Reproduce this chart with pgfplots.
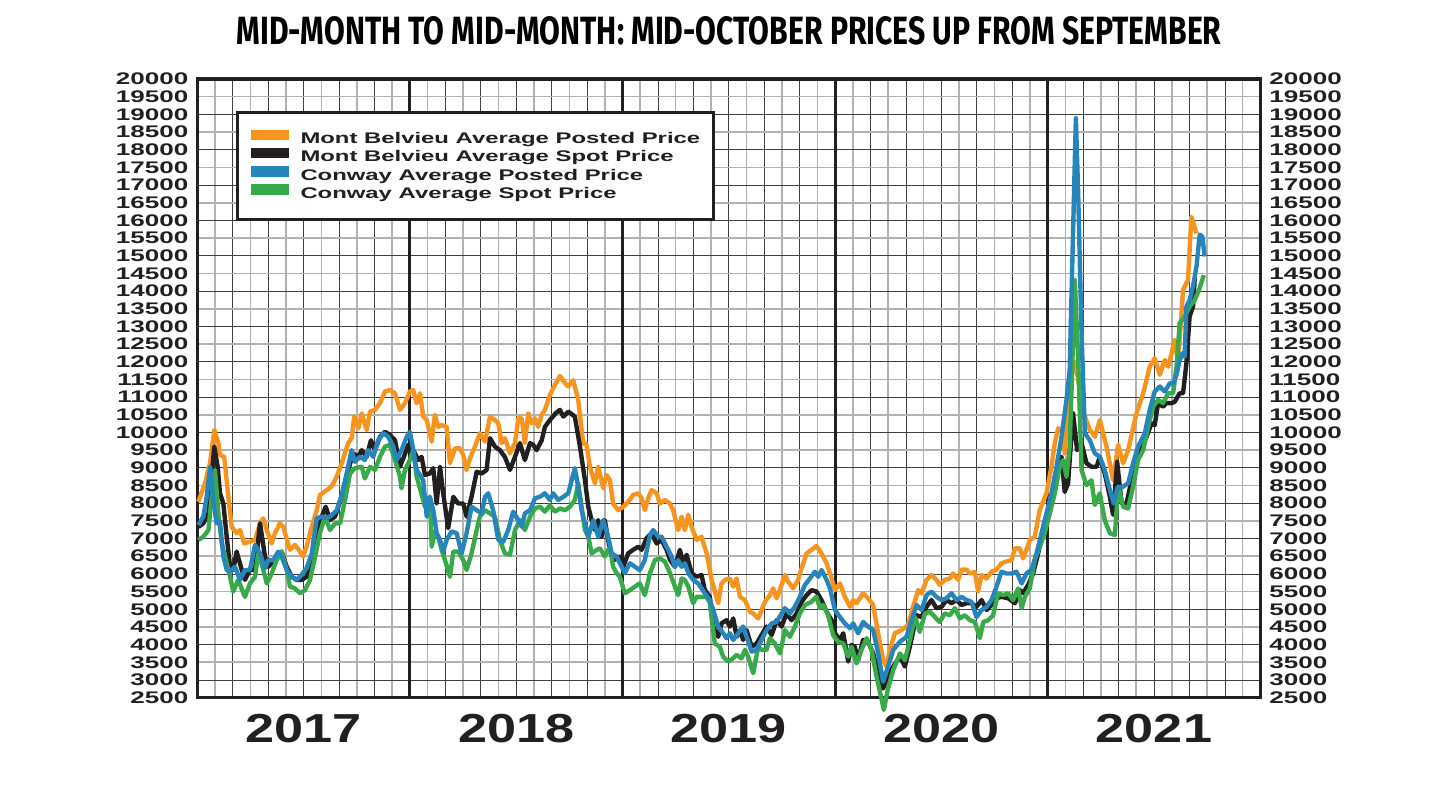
\documentclass[border=0pt]{standalone}
\usepackage{fontspec}
\usepackage{graphicx}
\usepackage{pgfplots}
\pgfplotsset{compat=1.18}
\usepackage{pgfplotstable}
\newfontfamily\tickfont[FakeStretch=1.55]{Liberation Sans}
\newfontfamily\yearfont[FakeStretch=1.29]{Liberation Sans}
\newfontfamily\titlefont{Fira Sans}
\definecolor{cOrange}{RGB}{247,148,29}
\definecolor{cBlack}{RGB}{35,31,32}
\definecolor{cBlue}{RGB}{38,134,188}
\definecolor{cGreen}{RGB}{57,170,73}

% x = months since 1 Jan 2017, y = price
\pgfplotstableread{
m v
0.06 8040
0.43 8560
0.72 9140
0.96 10070
1.19 9700
1.28 9360
1.52 9310
1.75 8180
1.94 7330
2.22 7150
2.41 7240
2.65 6860
2.97 6910
3.26 6960
3.54 7430
3.72 7570
3.92 7240
4.20 6860
4.38 7150
4.67 7430
4.85 7330
5.23 6680
5.51 6820
5.80 6630
5.98 6490
6.17 6770
6.46 7330
6.74 7800
6.92 8230
7.30 8370
7.58 8470
7.87 8750
8.15 9130
8.52 9700
8.71 9840
8.86 10450
9.09 10120
9.28 10540
9.56 10070
9.75 10590
10.03 10640
10.31 10830
10.59 11160
10.87 11200
11.16 11110
11.44 10640
11.72 10830
12.00 11160
12.19 11200
12.38 10830
12.57 11110
12.75 10450
12.95 10350
13.23 9740
13.41 10500
13.60 10160
13.79 10210
14.07 10160
14.26 9130
14.54 9550
14.83 9550
15.01 9360
15.20 8940
15.39 9270
15.67 9600
15.95 9980
16.24 9740
16.52 10450
16.80 10350
16.99 10260
17.18 9700
17.36 9840
17.65 9410
17.93 9700
18.12 10400
18.31 10400
18.49 9700
18.68 10540
18.87 10260
19.06 10400
19.24 10160
19.44 10500
19.62 10640
19.90 11060
20.19 11350
20.47 11600
20.75 11400
20.94 11300
21.22 11480
21.50 10920
21.78 9700
21.97 9650
22.16 9030
22.44 8560
22.63 9030
22.91 8420
23.10 8800
23.29 8650
23.47 7990
23.76 7800
24.04 7900
24.32 8040
24.60 8230
24.89 8280
25.08 8140
25.26 7800
25.45 8140
25.64 8370
25.93 8280
26.11 7990
26.39 8090
26.68 7990
26.86 7800
27.14 7240
27.34 7620
27.52 7240
27.71 7670
27.90 7330
28.18 6960
28.46 7050
28.75 6580
29.03 5830
29.40 5170
29.59 5730
29.78 5830
30.06 5870
30.25 5640
30.44 5870
30.63 5350
30.91 5260
31.19 4930
31.38 4880
31.66 4740
31.85 4980
32.04 5210
32.32 5400
32.51 5590
32.70 5310
32.98 5690
33.17 5970
33.35 5780
33.63 5590
33.91 5830
34.11 6160
34.39 6580
34.67 6680
34.95 6790
35.23 6580
35.52 6300
35.80 5870
35.99 5540
36.27 5730
36.55 5350
36.84 5070
37.02 5260
37.21 5170
37.58 5450
37.86 5310
38.15 5120
38.43 4320
38.71 3560
38.90 3380
39.09 3850
39.37 4320
39.75 4410
40.12 4550
40.40 5070
40.69 5540
40.88 5450
41.16 5830
41.44 5970
41.72 5830
41.91 5690
42.19 5830
42.48 5870
42.66 6010
42.95 5830
43.14 6120
43.42 6120
43.61 6010
43.89 6060
44.07 5500
44.27 5970
44.55 5870
44.83 6060
45.11 6120
45.39 6300
45.68 6350
45.96 6390
46.15 6720
46.43 6720
46.61 6440
46.80 6680
46.99 6960
47.27 7050
47.55 7800
47.93 8280
48.21 9030
48.40 9700
48.59 10120
48.87 9980
48.96 9410
49.15 10920
49.34 11580
49.53 12000
49.72 11500
49.91 10900
50.10 10450
50.38 10070
50.66 9880
50.94 10350
51.32 9600
51.69 8650
51.98 9650
52.26 9130
52.54 9500
53.01 10540
53.39 11110
53.76 11860
54.04 12100
54.33 11630
54.61 12050
54.80 11860
54.99 12240
55.17 12620
55.36 11960
55.64 14030
55.92 14310
56.11 16100
56.40 15630
}\mbposted

\pgfplotstableread{
m v
0.06 7330
0.34 7430
0.63 7710
0.96 9600
1.15 9030
1.28 8280
1.47 7990
1.66 7050
1.85 6200
2.03 6110
2.22 6630
2.51 6110
2.69 5830
2.97 6110
3.26 6110
3.54 7430
3.82 6490
4.01 6200
4.29 6350
4.57 6540
4.76 6630
5.05 6200
5.33 5920
5.61 5830
5.89 5830
6.17 5920
6.46 6300
6.74 6960
7.02 7620
7.25 7900
7.49 7520
7.77 7620
8.15 8180
8.52 8940
8.80 9410
9.09 9310
9.28 9500
9.56 9310
9.80 9780
10.03 9500
10.31 9880
10.59 10020
10.87 9930
11.16 9780
11.44 9030
11.63 9270
11.91 9650
12.19 9500
12.47 9220
12.66 9310
12.85 8800
13.13 8840
13.32 8990
13.51 7990
13.70 9030
13.88 8280
14.16 7290
14.45 8180
14.73 7990
15.01 7990
15.20 7620
15.48 8180
15.77 8890
16.05 8840
16.33 8940
16.52 9840
16.80 9600
17.08 9500
17.36 9310
17.65 8940
17.93 9310
18.21 9700
18.49 9220
18.78 9700
18.96 9650
19.15 9500
19.44 9780
19.62 10160
19.90 10350
20.24 10550
20.47 10640
20.66 10450
20.94 10590
21.31 10450
21.60 9600
21.88 8650
22.07 7900
22.26 7520
22.44 7240
22.63 7520
22.82 7050
23.00 7520
23.29 6680
23.57 6400
23.85 6490
24.04 6200
24.32 6580
24.60 6680
24.89 6770
25.08 6680
25.36 7010
25.64 7150
25.93 6860
26.21 6960
26.49 6680
26.68 6400
26.96 6200
27.24 6680
27.43 6300
27.62 6540
27.90 6020
28.18 5920
28.46 5970
28.65 5540
28.93 5350
29.12 4510
29.40 4220
29.59 4600
29.87 4690
30.06 4510
30.25 4740
30.44 4220
30.63 4410
30.81 4130
31.00 4410
31.29 3940
31.57 4030
31.85 4270
32.13 4510
32.42 4270
32.70 4690
32.98 4510
33.26 4880
33.54 4690
33.83 4880
34.11 5210
34.39 5400
34.67 5540
34.95 5500
35.23 5260
35.52 4930
35.80 4690
35.99 4320
36.27 4130
36.46 4320
36.74 3520
36.93 3990
37.11 3940
37.30 3560
37.58 4130
37.86 4080
38.15 3750
38.43 3190
38.71 2760
38.99 3090
39.28 3380
39.66 3660
39.94 3380
40.22 3940
40.60 4830
40.88 4780
41.16 5070
41.44 5260
41.72 5030
42.01 5070
42.29 5260
42.57 5170
42.85 5260
43.14 5120
43.42 5170
43.70 5170
43.98 5070
44.27 5260
44.55 4980
44.83 5120
45.11 5310
45.39 5350
45.77 5310
46.15 5170
46.43 5540
46.61 5450
46.90 5690
47.18 6010
47.46 6580
47.74 7150
48.03 7710
48.31 8280
48.59 9220
48.78 9310
48.96 8320
49.15 8560
49.43 10540
49.66 9500
49.91 9700
50.19 9130
50.47 9030
50.76 9030
50.94 9310
51.22 8840
51.51 8180
51.69 7670
51.92 9170
52.17 7990
52.45 7990
52.73 8650
53.01 9220
53.30 9600
53.58 9880
53.86 10260
54.04 10210
54.23 10830
54.51 10730
54.70 10830
54.99 10830
55.17 10870
55.45 11110
55.64 11110
55.83 11960
56.01 13280
56.20 13560
56.30 14360
}\mbspot

\pgfplotstableread{
m v
0.06 7380
0.34 7620
0.53 8180
0.72 9030
0.90 8090
1.09 7430
1.28 7480
1.47 6490
1.66 6110
1.85 6060
2.13 6200
2.41 5830
2.69 6110
2.97 6110
3.26 6820
3.54 6580
3.82 6160
4.01 6390
4.29 6390
4.57 6630
4.76 6490
5.05 6110
5.33 5920
5.61 5830
5.89 5970
6.17 6160
6.46 6580
6.74 7570
7.02 7620
7.30 7570
7.58 7660
7.87 7800
8.15 8230
8.43 8840
8.71 9500
8.90 9170
9.18 9310
9.46 9220
9.65 9500
9.93 9310
10.21 9780
10.50 9980
10.78 9880
11.06 9600
11.25 9220
11.53 9500
11.82 9880
12.00 10020
12.19 9500
12.38 8940
12.57 8800
12.75 8650
12.95 7620
13.13 8180
13.32 7800
13.51 7150
13.70 6960
13.88 6630
14.07 6960
14.36 7200
14.64 7150
14.92 6580
15.20 7150
15.48 7900
15.77 7800
16.05 7710
16.24 8180
16.42 8280
16.70 7800
16.99 6960
17.27 6910
17.55 7240
17.83 7760
18.12 7520
18.31 7330
18.49 7710
18.78 7800
19.06 8140
19.34 8180
19.62 8280
19.90 8090
20.09 8280
20.37 8090
20.66 8180
20.94 8280
21.13 8650
21.31 8990
21.50 8470
21.69 7800
21.88 7430
22.07 7050
22.35 7520
22.63 7050
22.91 7520
23.19 7050
23.39 6580
23.67 6490
23.95 6200
24.13 6020
24.42 6300
24.70 6200
24.98 6110
25.26 6390
25.55 7100
25.73 7240
26.02 7050
26.21 7050
26.49 6770
26.77 6490
26.96 6200
27.14 6390
27.34 6200
27.52 6300
27.71 6020
27.99 5830
28.27 5730
28.65 5450
28.93 5260
29.12 4980
29.40 4510
29.68 4320
29.87 4180
30.06 4320
30.25 4130
30.53 4320
30.81 4510
31.00 4220
31.29 3800
31.57 3850
31.85 4130
32.13 4410
32.42 4600
32.70 4640
32.98 4880
33.17 5030
33.45 4880
33.73 5070
34.01 5350
34.30 5690
34.58 5870
34.86 6060
35.05 5920
35.24 6110
35.52 5830
35.71 5590
35.99 4980
36.27 4780
36.55 4600
36.84 4460
37.02 4600
37.30 4320
37.58 4640
37.86 4510
38.15 4410
38.43 3750
38.71 2950
38.99 3380
39.28 3850
39.66 4080
40.03 4220
40.31 4690
40.60 5120
40.88 4980
41.16 5400
41.44 5500
41.72 5350
42.01 5260
42.29 5310
42.57 5450
42.85 5260
43.14 5350
43.42 5260
43.70 5210
43.98 4780
44.27 4980
44.55 5070
44.83 5260
45.11 5640
45.39 6060
45.68 6010
45.96 6010
46.24 6060
46.53 5730
46.80 6010
47.09 6120
47.37 6580
47.65 7150
47.93 7710
48.21 8280
48.50 9030
48.78 9880
49.06 10920
49.24 11770
49.43 15630
49.59 18890
49.72 16770
49.91 12810
50.10 9980
50.38 9780
50.66 9410
50.94 9310
51.22 8940
51.51 8370
51.73 7990
51.92 8420
52.26 8470
52.54 8560
52.82 9130
53.10 9600
53.48 9980
53.76 10640
54.04 11160
54.33 11300
54.61 11160
54.89 11390
55.08 11390
55.27 11630
55.45 12050
55.60 12240
55.73 12150
55.83 13560
56.01 13750
56.20 14130
56.40 14700
56.58 15600
56.73 15540
56.86 14980
}\cwposted

\pgfplotstableread{
m v
0.06 6960
0.34 7050
0.63 7240
0.81 8180
1.00 8940
1.19 7710
1.38 6860
1.66 6300
1.85 5920
2.03 5500
2.31 5830
2.69 5350
2.97 5730
3.26 5920
3.44 6580
3.63 6300
3.92 5730
4.20 6010
4.48 6390
4.76 6630
5.05 6110
5.23 5640
5.51 5590
5.80 5450
6.08 5540
6.36 5830
6.65 6490
6.92 7150
7.21 7620
7.49 7240
7.77 7430
8.06 7430
8.34 8090
8.62 8840
8.90 8990
9.28 9030
9.46 8700
9.75 9030
10.03 8940
10.31 9310
10.59 9600
10.87 9650
11.16 9220
11.44 8750
11.53 8420
11.72 8940
12.00 9220
12.19 9500
12.38 8750
12.57 8420
12.85 7900
13.13 8180
13.23 6770
13.41 7200
13.60 7050
13.79 6680
13.98 6390
14.26 5920
14.45 6630
14.73 6630
15.01 6390
15.20 6110
15.48 6580
15.77 7240
15.95 7620
16.24 7800
16.52 7710
16.80 7620
17.08 6960
17.36 6580
17.65 6540
17.93 7240
18.21 7520
18.49 7240
18.78 7620
19.06 7850
19.34 7900
19.62 7760
19.90 7940
20.19 7760
20.47 7850
20.75 7800
21.03 7900
21.31 8090
21.50 8560
21.69 7900
21.88 7240
22.07 7050
22.26 6580
22.55 6680
22.73 6720
23.00 6490
23.29 6770
23.47 6200
23.67 6020
23.85 5920
24.13 5450
24.42 5540
24.70 5640
24.98 5730
25.26 5400
25.55 6020
25.83 6390
26.11 6440
26.39 6350
26.68 6020
26.96 5640
27.14 5400
27.34 5870
27.52 5830
27.71 5640
27.99 5170
28.18 5350
28.46 5350
28.75 5350
28.93 5170
29.21 4030
29.49 3940
29.68 3660
29.96 3520
30.25 3610
30.44 3710
30.72 3610
30.91 3850
31.09 3660
31.38 3190
31.66 3940
31.85 3850
32.13 3850
32.32 4180
32.60 4030
32.89 3750
33.17 4410
33.45 4220
33.73 4510
34.01 4880
34.30 5120
34.67 5210
34.95 5350
35.14 5030
35.33 5120
35.61 4830
35.89 4270
36.17 4080
36.46 4030
36.74 3660
36.93 3940
37.21 3470
37.49 3850
37.78 4180
38.06 3850
38.34 3090
38.53 2670
38.75 2150
38.99 2760
39.28 3280
39.66 3750
39.94 3560
40.22 4130
40.51 4780
40.78 4360
41.07 4880
41.35 4930
41.63 4780
41.91 4640
42.19 4880
42.48 4830
42.76 5030
43.04 4740
43.32 4830
43.61 4690
43.89 4640
44.17 4180
44.36 4640
44.64 4690
44.92 4830
45.20 5450
45.49 5400
45.77 5450
46.05 5260
46.33 5590
46.53 5030
46.71 5350
46.99 5590
47.27 6390
47.55 6770
47.83 7150
48.12 7710
48.40 8280
48.68 9030
48.87 9220
49.06 8750
49.24 9600
49.34 11110
49.53 14310
49.72 12050
49.91 8940
50.19 8510
50.47 8650
50.66 7950
50.94 8280
51.22 7520
51.51 7150
51.79 7100
51.98 8470
52.26 7900
52.54 7850
52.82 8470
53.10 9220
53.39 9500
53.67 10160
53.95 10730
54.23 10920
54.51 10830
54.80 11110
55.08 11110
55.27 11860
55.45 13090
55.73 13280
56.01 13560
56.30 13750
56.54 14030
56.81 14450
}\cwspot

\begin{document}
\begin{tikzpicture}
\path[use as bounding box] (0,0) rectangle (723.5bp,396bp);

\node[anchor=base] at (364.5bp,373.5bp)
  {\resizebox{492.5bp}{14bp}{\titlefont\bfseries MID-MONTH TO MID-MONTH: MID-OCTOBER PRICES UP FROM SEPTEMBER}};

\begin{axis}[
  at={(98.65bp,47.2bp)}, anchor=south west,
  scale only axis, width=531.5bp, height=309.3bp,
  xmin=0, xmax=60, ymin=2500, ymax=20000,
  clip=false,
  axis line style={line width=1.75bp, cBlack},
  xtick={0,2,...,60}, minor x tick num=1,
  xticklabels={},
  extra x ticks={12,24,36,48},
  extra x tick labels={},
  extra x tick style={grid=major, major grid style={cBlack, line width=1.5bp}},
  ytick={3000,4000,...,20000}, minor y tick num=1,
  extra y ticks={2500,3500,...,19500},
  extra y tick style={grid=none},
  grid=both,
  major grid style={black!75, line width=0.35bp},
  minor grid style={black!30, line width=0.8bp},
  major tick length=0pt, minor tick length=0pt,
  scaled y ticks=false,
  yticklabel style={font=\tickfont\bfseries\fontsize{8.4bp}{8.4bp}\selectfont,
    /pgf/number format/assume math mode=true,
    /pgf/number format/1000 sep={}, /pgf/number format/fixed,
    text=cBlack, xshift=-1bp},
  every axis plot/.append style={line width=2.2bp, line join=round},
  legend image code/.code={%
    \path[draw=none, fill=none] (0bp,-2bp) rectangle (19bp,5.5bp);
    \path[#1, draw=none, line width=0pt] (0bp,0bp) rectangle (19bp,5.3bp);},
  legend cell align=left,
  legend style={at={(0.0364,0.9488)}, anchor=north west,
    draw=cBlack, line width=1.5bp, fill=white,
    inner xsep=6.5bp, inner ysep=8.5bp, column sep=6bp, row sep=-0.15bp,
    nodes={inner sep=0pt, text height=5.5bp, text depth=2bp,
      font=\tickfont\bfseries\fontsize{7.7bp}{7.7bp}\selectfont, text=cBlack}},
]
\addlegendimage{cOrange, fill=cOrange}
\addlegendentry{Mont Belvieu Average Posted Price}
\addlegendimage{cBlack, fill=cBlack}
\addlegendentry{Mont Belvieu Average Spot Price}
\addlegendimage{cBlue, fill=cBlue}
\addlegendentry{Conway Average Posted Price}
\addlegendimage{cGreen, fill=cGreen}
\addlegendentry{Conway Average Spot Price}

\addplot[cOrange, forget plot] table[x=m, y=v] {\mbposted};
\addplot[cBlack, forget plot] table[x=m, y=v] {\mbspot};
\addplot[cGreen, forget plot] table[x=m, y=v] {\cwspot};
\addplot[cBlue, forget plot] table[x=m, y=v] {\cwposted};

\node[anchor=base, yshift=-22.2bp, text=cBlack, font=\yearfont\bfseries\fontsize{20.25bp}{20.25bp}\selectfont] at (axis cs:6,2500) {2017};
\node[anchor=base, yshift=-22.2bp, text=cBlack, font=\yearfont\bfseries\fontsize{20.25bp}{20.25bp}\selectfont] at (axis cs:18,2500) {2018};
\node[anchor=base, yshift=-22.2bp, text=cBlack, font=\yearfont\bfseries\fontsize{20.25bp}{20.25bp}\selectfont] at (axis cs:30,2500) {2019};
\node[anchor=base, yshift=-22.2bp, text=cBlack, font=\yearfont\bfseries\fontsize{20.25bp}{20.25bp}\selectfont] at (axis cs:42,2500) {2020};
\node[anchor=base, yshift=-22.2bp, text=cBlack, font=\yearfont\bfseries\fontsize{20.25bp}{20.25bp}\selectfont] at (axis cs:54,2500) {2021};
\end{axis}

\begin{axis}[
  at={(98.65bp,47.2bp)}, anchor=south west,
  scale only axis, width=531.5bp, height=309.3bp,
  xmin=0, xmax=60, ymin=2500, ymax=20000,
  hide x axis,
  axis y line*=right,
  y axis line style={draw=none},
  ytick={3000,4000,...,20000},
  extra y ticks={2500,3500,...,19500},
  major tick length=0pt,
  scaled y ticks=false,
  yticklabel style={font=\tickfont\bfseries\fontsize{8.4bp}{8.4bp}\selectfont,
    /pgf/number format/assume math mode=true,
    /pgf/number format/1000 sep={}, /pgf/number format/fixed,
    text=cBlack, xshift=1bp},
]
\addplot[draw=none] coordinates {(0,2500) (60,20000)};
\end{axis}
\end{tikzpicture}
\end{document}
